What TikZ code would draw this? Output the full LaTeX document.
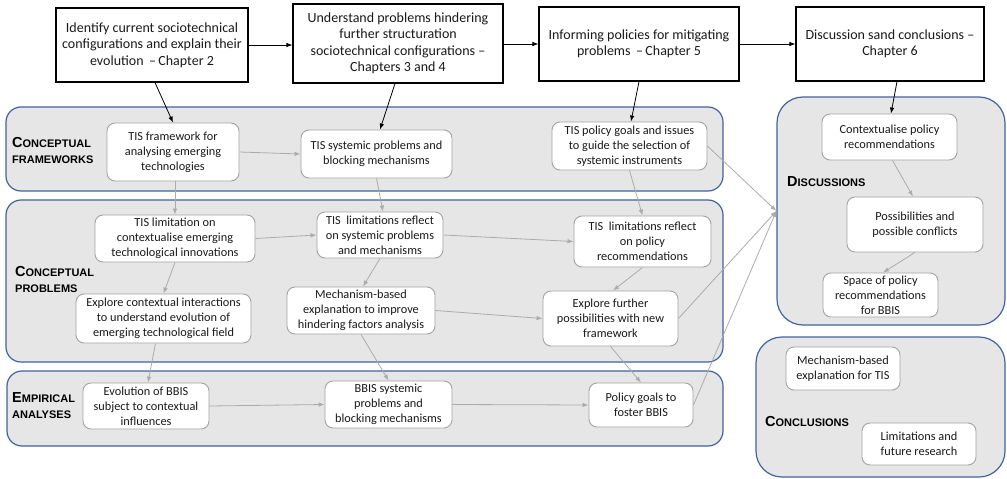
\documentclass[tikz,border=0pt]{standalone}
\usepackage{fontspec}
\setmainfont{Carlito}
\newfontfamily\capsfont{Liberation Sans}
\usetikzlibrary{arrows.meta}

\definecolor{panelblue}{HTML}{41639E}
\definecolor{panelfill}{HTML}{E6E6E7}
\definecolor{boxgray}{HTML}{A3A3A3}
\definecolor{linkgray}{HTML}{ABABAB}
\definecolor{inktext}{HTML}{1A1A1A}

% large initial of a small-caps group heading
\newcommand\bigini[1]{{\fontsize{14.5}{16}\selectfont #1}}

\tikzset{
  panel/.style={draw=panelblue, line width=1.2pt, fill=panelfill, rounded corners=15pt, inner sep=0pt},
  bigpanel/.style={panel, rounded corners=26pt},
  chapbox/.style={draw=black, line width=1.1pt, fill=white, align=center, inner sep=1pt,
    font=\fontsize{14}{16.5}\selectfont, text=inktext},
  stepnode/.style={draw=boxgray, line width=0.9pt, fill=white, rounded corners=8pt, align=center,
    inner sep=1pt, font=\fontsize{12.3}{15}\selectfont, text=inktext},
  grouplabel/.style={anchor=west, align=left, inner sep=0pt, text=black,
    font=\capsfont\bfseries\fontsize{11}{16}\selectfont},
  link/.style={draw=linkgray, line width=0.8pt, -{Latex[length=6pt,width=4.5pt]}},
  chaplink/.style={draw=black, line width=0.8pt, -{Latex[length=6pt,width=4.5pt]}},
}

\begin{document}
\begin{tikzpicture}[x=1pt,y=-1pt]
\fill[white] (0,0) rectangle (1007,479);
\useasboundingbox (0,0) rectangle (1007,479);

% ---- group panels ----
\node[panel, minimum width=717pt, minimum height=84pt]  (cf)   at (364.5,149) {};
\node[panel, minimum width=717pt, minimum height=162pt] (cp)   at (364.5,281) {};
\node[panel, minimum width=716pt, minimum height=75pt]  (ea)   at (365,408.5) {};
\node[bigpanel, minimum width=228pt, minimum height=228pt] (disc) at (891,211) {};
\node[bigpanel, minimum width=249pt, minimum height=140pt] (conc) at (880.5,407) {};

% ---- group headings ----
\node[grouplabel] (lcf) at (12,150) {\bigini{C}ONCEPTUAL\\FRAMEWORKS};
\node[grouplabel] (lcp) at (15,279) {\bigini{C}ONCEPTUAL\\PROBLEMS};
\node[grouplabel] (lea) at (12,406) {\bigini{E}MPIRICAL\\ANALYSES};
\node[grouplabel] (ldi) at (787,182) {\bigini{D}ISCUSSIONS};
\node[grouplabel] (lco) at (765,422) {\bigini{C}ONCLUSIONS};

% ---- chapter boxes ----
\node[chapbox, minimum width=192pt, minimum height=74pt] (ch1) at (152,45)
  {Identify current sociotechnical\\configurations and explain their\\evolution \,--\,Chapter 2};
\node[chapbox, minimum width=210pt, minimum height=79pt] (ch2) at (398,43.5)
  {Understand problems hindering\\further structuration\\sociotechnical configurations --\\Chapters 3 and 4};
\node[chapbox, minimum width=200pt, minimum height=74pt] (ch3) at (639,44)
  {Informing policies for mitigating\\problems \,--\,Chapter 5};
\node[chapbox, minimum width=188pt, minimum height=74pt] (ch4) at (890,44)
  {Discussion sand conclusions --\\Chapter 6};

% ---- conceptual frameworks ----
\node[stepnode, minimum width=132pt, minimum height=58pt] (n1) at (173,152)
  {TIS framework for\\analysing emerging\\technologies};
\node[stepnode, minimum width=151pt, minimum height=48pt] (n2) at (376.5,154)
  {TIS systemic problems and\\blocking mechanisms};
\node[stepnode, minimum width=155pt, minimum height=48pt] (n3) at (629.5,146)
  {TIS policy goals and issues\\to guide the selection of\\systemic instruments};

% ---- conceptual problems ----
\node[stepnode, minimum width=160pt, minimum height=47pt] (n4) at (175,238.5)
  {TIS limitation on\\contextualise emerging\\technological innovations};
\node[stepnode, minimum width=126pt, minimum height=46pt] (n5) at (380,235)
  {TIS\ \ limitations reflect\\on systemic problems\\and mechanisms};
\node[stepnode, minimum width=137pt, minimum height=51pt] (n6) at (642.5,241.5)
  {TIS\ \ limitations reflect\\on policy\\recommendations};
\node[stepnode, minimum width=175pt, minimum height=49pt] (n7) at (163.5,318.5)
  {Explore contextual interactions\\to understand evolution of\\emerging technological field};
\node[stepnode, minimum width=148pt, minimum height=47pt] (n8) at (361,310.5)
  {Mechanism-based\\explanation to improve\\hindering factors analysis};
\node[stepnode, minimum width=135pt, minimum height=55pt] (n9) at (610.5,318.5)
  {Explore further\\possibilities with new\\framework};

% ---- empirical analyses ----
\node[stepnode, minimum width=126pt, minimum height=46pt] (n10) at (146,406)
  {Evolution of BBIS\\subject to contextual\\influences};
\node[stepnode, minimum width=127pt, minimum height=47pt] (n11) at (388.5,404.5)
  {BBIS systemic\\problems and\\blocking mechanisms};
\node[stepnode, minimum width=104pt, minimum height=44pt] (n12) at (641,405)
  {Policy goals to\\foster BBIS};

% ---- discussions ----
\node[stepnode, minimum width=135pt, minimum height=46pt] (d1) at (889.5,137)
  {Contextualise policy\\recommendations};
\node[stepnode, minimum width=136pt, minimum height=55pt] (d2) at (915,224.5)
  {Possibilities and\\possible conflicts};
\node[stepnode, minimum width=115pt, minimum height=44pt] (d3) at (880.5,295)
  {Space of policy\\recommendations\\for BBIS};

% ---- conclusions ----
\node[stepnode, minimum width=114pt, minimum height=43pt] (c1) at (843,368.5)
  {Mechanism-based\\explanation for TIS};
\node[stepnode, minimum width=114pt, minimum height=42pt] (c2) at (919,444)
  {Limitations and\\future research};

% ---- chapter flow ----
\draw[chaplink] (ch1.east) -- (ch1.east -| ch2.west);
\draw[chaplink] (ch3.west -| ch2.east) -- (ch3.west);
\draw[chaplink] (ch3.east) -- (ch4.west);
\draw[chaplink] ([xshift=3pt]ch1.south) -- (n1.north);
\draw[chaplink] ([xshift=-3pt]ch2.south) -- ([xshift=3.5pt]n2.north);
\draw[chaplink] (ch3.south) -- ([xshift=1.5pt]n3.north);
\draw[chaplink] ([xshift=7pt]ch4.south) -- ([xshift=1.5pt]d1.north);

% ---- links between steps ----
\draw[link] (n1.east) -- (n2.west);
\draw[link] ([xshift=2pt]n1.south) -- (n4.north);
\draw[link] (n2.south) -- ([xshift=3pt]n5.north);
\draw[link] (n3.south) -- (n6.north);
\draw[link] (n4.east) -- (n5.west);
\draw[link] (n5.east) -- (n6.west);
\draw[link] (n4.south) -- (n7.north);
\draw[link] (n5.south) -- ([xshift=2pt]n8.north);
\draw[link] (n6.south) -- ([xshift=2.5pt]n9.north);
\draw[link] (n8.east) -- (n9.west);
\draw[link] ([xshift=-8pt]n7.south) -- ([xshift=2pt]n10.north);
\draw[link] (n8.south) -- (n11.north);
\draw[link] (n9.south) -- (n12.north);
\draw[link] (n10.east) -- (n11.west);
\draw[link] (n11.east) -- (n12.west);
\draw[link] (n3.east) -- (disc.west);
\draw[link] (n9.east) -- (disc.west);
\draw[link] (n12.east) -- (disc.west);
\draw[link] ([xshift=3pt]d1.south) -- ([xshift=-2pt]d2.north);
\draw[link] (d2.south) -- ([xshift=2.5pt]d3.north);
\end{tikzpicture}
\end{document}
